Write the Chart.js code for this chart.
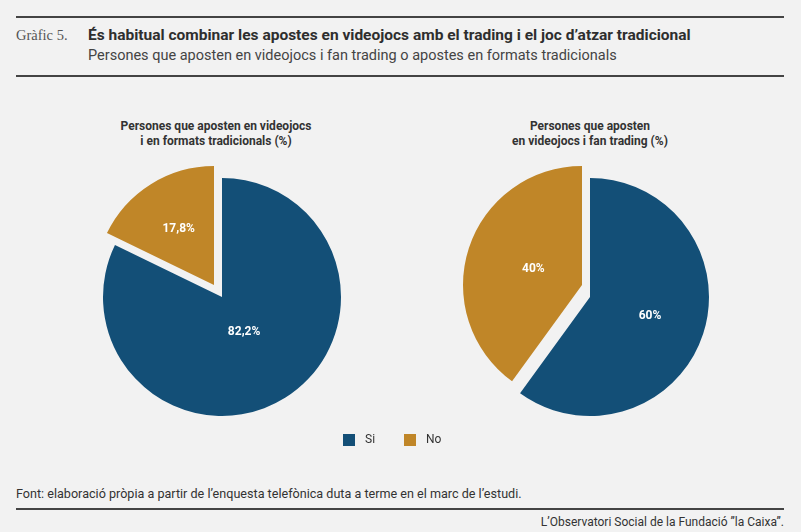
<!DOCTYPE html>
<html lang="ca">
<head>
<meta charset="utf-8">
<title>Gràfic 5</title>
<script src="https://cdn.jsdelivr.net/npm/chart.js@4.4.0/dist/chart.umd.min.js"></script>
<style>
  html, body { margin: 0; padding: 0; }
  body {
    width: 801px; height: 532px; position: relative; overflow: hidden;
    background: #f2f2f2; font-family: Roboto, "Liberation Sans", sans-serif; color: #333;
  }
  .rule { position: absolute; left: 16px; width: 768px; height: 2px; background: #444; }
  .num { position: absolute; left: 16px; top: 26px; font: 14.5px/18px "Liberation Serif", "DejaVu Serif", serif; color: #555; }
  .title { position: absolute; left: 88px; top: 26px; font: bold 15.5px/18px Roboto, sans-serif; color: #2e2e2e; white-space: nowrap; }
  .subtitle { position: absolute; left: 88px; top: 47px; font: 14.5px/18px Roboto, sans-serif; color: #444; white-space: nowrap; }
  .pie-title { position: absolute; width: 260px; text-align: center; top: 119px; font: bold 12px/15px Roboto, sans-serif; color: #333; }
  .chart-card { position: absolute; top: 157px; width: 280px; height: 280px; }
  .legend { position: absolute; left: 343px; top: 432px; display: flex; font: 12px/15px Roboto, sans-serif; color: #333; }
  .legend span.item { display: flex; align-items: center; margin-right: 29px; }
  .legend span.box { width: 12px; height: 12px; margin-right: 10px; }
  .source { position: absolute; left: 16px; top: 486px; font: 12.6px/16px Roboto, sans-serif; color: #333; white-space: nowrap; }
  .credit { position: absolute; right: 17px; top: 514px; font: 12px/16px Roboto, sans-serif; color: #333; white-space: nowrap; }
</style>
</head>
<body>
  <div class="rule" style="top:16px"></div>
  <div class="num">Gràfic 5.</div>
  <div class="title">És habitual combinar les apostes en videojocs amb el trading i el joc d’atzar tradicional</div>
  <div class="subtitle">Persones que aposten en videojocs i fan trading o apostes en formats tradicionals</div>
  <div class="rule" style="top:75px"></div>

  <div class="pie-title" style="left:86px">Persones que aposten en videojocs<br>i en formats tradicionals (%)</div>
  <div class="pie-title" style="left:460px">Persones que aposten<br>en videojocs i fan trading (%)</div>

  <div class="chart-card" style="left:82px"><canvas id="tradChart" width="280" height="280"></canvas></div>
  <div class="chart-card" style="left:450px"><canvas id="tradingChart" width="280" height="280"></canvas></div>

  <div class="legend" id="legend"></div>

  <div class="source">Font: elaboració pròpia a partir de l’enquesta telefònica duta a terme en el marc de l’estudi.</div>
  <div class="rule" style="top:508px"></div>
  <div class="credit">L’Observatori Social de la Fundació ”la Caixa”.</div>

<script>
// data
const categories = ['Si', 'No'];
const tradValues = [82.2, 17.8];     // videojocs + formats tradicionals
const tradingValues = [60, 40];      // videojocs + trading

const colors = ['#134f77', '#c08628'];

const fmt = (v) => String(v).replace('.', ',') + '%';

// moves one slice by a fixed amount (the "No" slice is pulled out up-left)
const shiftSlice = {
  id: 'shiftSlice',
  afterDatasetsUpdate(chart, args, opts) {
    const arc = chart.getDatasetMeta(0).data[opts.index];
    if (arc) {
      arc.x += opts.dx;
      arc.y += opts.dy;
    }
  }
};

// white value labels inside the slices
const sliceLabels = {
  id: 'sliceLabels',
  afterDatasetsDraw(chart, args, opts) {
    const ctx = chart.ctx;
    const values = chart.data.datasets[0].data;
    chart.getDatasetMeta(0).data.forEach((arc, i) => {
      const mid = (arc.startAngle + arc.endAngle) / 2;
      const r = arc.outerRadius * opts.radius[i];
      ctx.save();
      ctx.fillStyle = '#fff';
      ctx.font = 'bold 12px Roboto, sans-serif';
      ctx.textAlign = 'center';
      ctx.textBaseline = 'middle';
      ctx.fillText(fmt(values[i]), arc.x + Math.cos(mid) * r, arc.y + Math.sin(mid) * r);
      ctx.restore();
    });
  }
};

const makePie = (id, values, labelRadius) => {
  new Chart(document.getElementById(id), {
    type: 'pie',
    data: {
      labels: categories,
      datasets: [{ data: values, backgroundColor: colors, borderWidth: 0 }]
    },
    options: {
      responsive: false,
      animation: false,
      events: [],
      radius: 119,
      layout: { padding: 0 },
      plugins: {
        legend: { display: false },
        tooltip: { enabled: false },
        shiftSlice: { index: 1, dx: -8, dy: -12 },
        sliceLabels: { radius: labelRadius }
      }
    },
    plugins: [shiftSlice, sliceLabels]
  });
};

makePie('tradChart', tradValues, [0.35, 0.56]);
makePie('tradingChart', tradingValues, [0.53, 0.43]);

// legend
const legend = document.getElementById('legend');
categories.forEach((c, i) => {
  const item = document.createElement('span');
  item.className = 'item';
  item.innerHTML = '<span class="box" style="background:' + colors[i] + '"></span>' + c;
  legend.appendChild(item);
});
</script>
</body>
</html>
